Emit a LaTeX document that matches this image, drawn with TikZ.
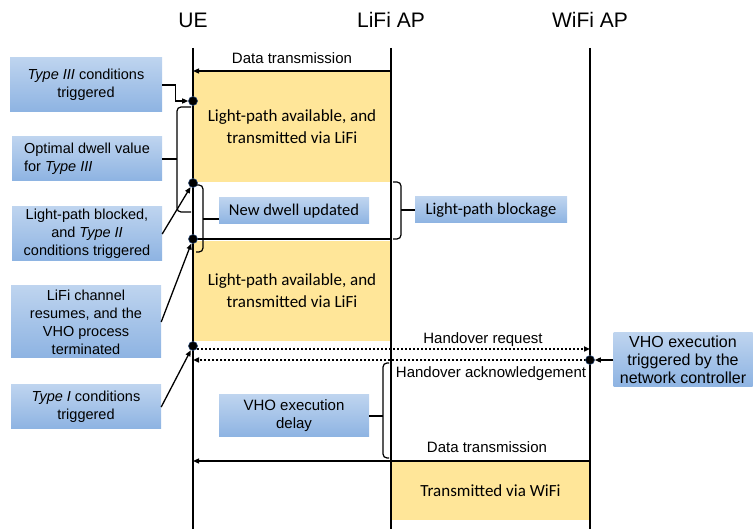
\documentclass[tikz,border=0pt]{standalone}
\usepackage{fontspec}
\setmainfont{Liberation Sans}
\newfontfamily\calfont{Carlito}
\usetikzlibrary{arrows.meta}

\definecolor{slotyellow}{HTML}{FFE699}
\definecolor{notetop}{HTML}{BED4EF}
\definecolor{notebot}{HTML}{8DB3E2}
\definecolor{dotedge}{HTML}{2E4A74}

\begin{document}
\begin{tikzpicture}[x=1pt,y=-1pt,
  head/.style={font=\fontsize{21}{25}\selectfont},
  life/.style={line width=2.4pt},
  cut/.style={line width=2pt},
  msg/.style={line width=1.3pt,-{Triangle[length=6pt,width=5pt]}},
  hand/.style={msg,line width=2pt,dash pattern=on 2pt off 2pt},
  wire/.style={line width=1.2pt},
  brc/.style={line width=1.2pt,rounded corners=4pt},
  lbl/.style={font=\fontsize{15}{18}\selectfont},
  slot/.style={fill=slotyellow,align=center,font=\calfont\fontsize{17}{22}\selectfont},
  note/.style={top color=notetop,bottom color=notebot,minimum width=150pt,align=center,inner sep=2pt,font=\fontsize{14.5}{18}\selectfont},
  cnote/.style={note,font=\calfont\fontsize{16.5}{20}\selectfont},
  evt/.style={circle,fill=black,draw=dotedge,line width=0.6pt,inner sep=0pt,minimum size=9pt}]
\useasboundingbox (0,0) rectangle (753,529);

% transmission slots
\node[slot,minimum width=198pt,minimum height=110pt] (s1) at (292,127) {Light-path available, and\\transmitted via LiFi};
\node[slot,minimum width=198pt,minimum height=100pt] (s2) at (292,291) {Light-path available, and\\transmitted via LiFi};
\node[slot,minimum width=199pt,minimum height=57pt] (s3) at (490.5,491) {Transmitted via WiFi};

% entities and lifelines
\node[head] (ueh) at (193,20) {UE};
\node[head] (lifih) at (391,20) {LiFi AP};
\node[head] (wifih) at (590,20) {WiFi AP};
\coordinate (ue) at (193,48);
\coordinate (lifi) at (391,48);
\coordinate (wifi) at (590,48);
\draw[life] (ue) -- (ue |- 0,529);
\draw[life] (lifi) -- (lifi |- 0,529);
\draw[life] (wifi) -- (wifi |- 0,529);

% messages
\draw[msg] (lifi |- 0,71) -- (ue |- 0,71);
\node[lbl] (dt1) at (292,58) {Data transmission};
\draw[cut] (ue |- 0,239) -- (lifi |- 0,239);
\draw[hand] (ue |- 0,349) -- (wifi |- 0,349);
\node[lbl] (hreq) at (483,340) {Handover request};
\draw[hand] (wifi |- 0,360) -- (ue |- 0,360);
\node[lbl] (hack) at (491,374) {Handover acknowledgement};
\draw[msg] (wifi |- 0,461) -- (ue |- 0,461);
\node[lbl] (dt2) at (487,447) {Data transmission};

% events
\node[evt] (e1) at (193,101) {};
\node[evt] (e2) at (193,183) {};
\node[evt] (e3) at (193,239) {};
\node[evt] (e4) at (193,346) {};
\node[evt] (e5) at (590,360) {};

% notes
\node[note,minimum width=152pt,minimum height=54pt] (t3) at (86,85) {\textit{Type III} conditions\\triggered};
\node[note,minimum height=44pt,align=left] (opt) at (87,159) {Optimal dwell value\\for \textit{Type III}};
\node[note,minimum height=54pt] (t2) at (87,234) {Light-path blocked,\\and \textit{Type II}\\conditions triggered};
\node[note,minimum height=72pt] (res) at (86,322) {LiFi channel\\resumes, and the\\VHO process\\terminated};
\node[note,minimum height=44pt] (t1) at (86,407) {\textit{Type I} conditions\\triggered};
\node[cnote,minimum height=26pt] (dw) at (294,211) {New dwell updated};
\node[cnote,minimum width=152pt,minimum height=26pt] (blk) at (491,210) {Light-path blockage};
\node[note,minimum height=42pt,font=\fontsize{15}{18}\selectfont] (del) at (294,416) {VHO execution\\delay};
\node[note,minimum width=139pt,minimum height=54pt,font=\fontsize{16}{18}\selectfont] (ctrl) at (683,360) {VHO execution\\triggered by the\\network controller};

% braces
\coordinate (optTip) at (177,159);
\coordinate (dwTip) at (203,219);
\coordinate (blkTip) at (401,210);
\coordinate (delTip) at (383,416);
\draw[brc] (191,107) -| (optTip) |- (191,212);
\draw[brc] (196,185) -| (dwTip) |- (196,252);
\draw[brc] (393,182) -| (blkTip) |- (393,239);
\draw[brc] (389,363) -| (delTip) |- (389,458);
\draw[wire] (opt.east) -- (optTip);
\draw[wire] (dwTip) -- (dw.west |- dwTip);
\draw[wire] (blkTip) -- (blk.west);
\draw[wire] (del.east) -- (delTip);

% pointers to events
\draw[msg] (t3.east) -- ++(13,0) |- (e1);
\draw[msg] (t2.east) -- (e2);
\draw[msg] (res.east) -- (e3);
\draw[msg] (t1.east) -- (e4);
\draw[msg] (ctrl.west) -- (e5);
\end{tikzpicture}
\end{document}
